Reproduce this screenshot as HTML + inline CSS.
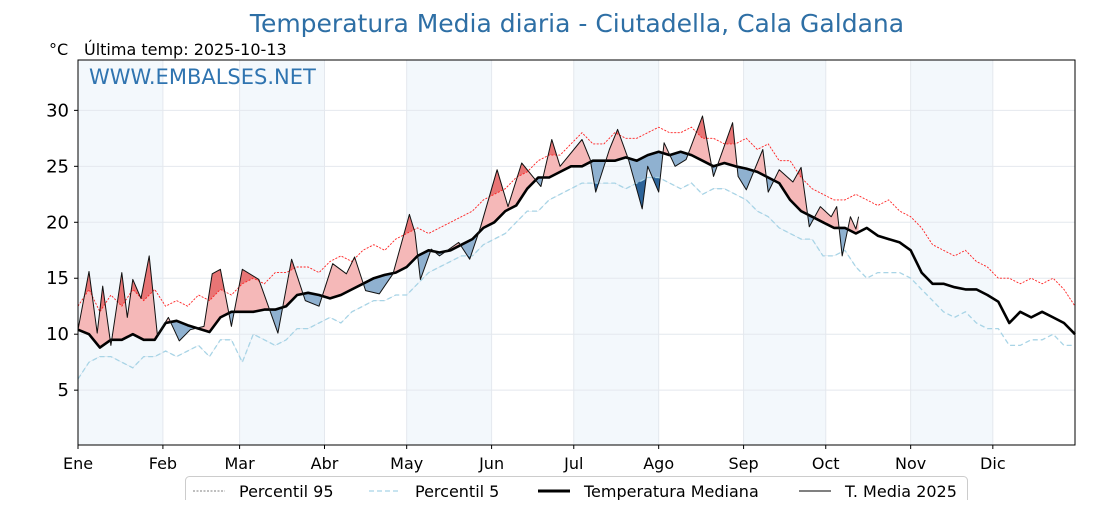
<!DOCTYPE html>
<html><head><meta charset="utf-8"><style>
body{margin:0;background:#fff;}
svg text{font-family:"DejaVu Sans","Liberation Sans",sans-serif;}
</style></head><body>
<svg id="chart" width="1120" height="500" xmlns="http://www.w3.org/2000/svg">
<text x="577" y="32" text-anchor="middle" font-size="25" fill="#2e6fa5">Temperatura Media diaria - Ciutadella, Cala Galdana</text>
<text x="49" y="55" font-size="16" fill="#000">°C</text>
<text x="84" y="55" font-size="16" fill="#000">Última temp: 2025-10-13</text>
<g id="bands"></g><g id="grid"></g><g id="fills"></g><g id="lines"></g><g id="axes"></g>
<text x="89" y="84" font-size="21" fill="#2f74b0">WWW.EMBALSES.NET</text>
<g id="legend"></g>
</svg>
<script>
const monthLabels=["Ene","Feb","Mar","Abr","May","Jun","Jul","Ago","Sep","Oct","Nov","Dic"];
const monthStarts=[0,31,59,90,120,151,181,212,243,273,304,334];
const yTicks=[5,10,15,20,25,30];
const refDays=[0,4,8,12,16,20,24,28,32,36,40,44,48,52,56,60,64,68,72,76,80,84,88,92,96,100,104,108,112,116,120,124,128,132,136,140,144,148,152,156,160,164,168,172,176,180,184,188,192,196,200,204,208,212,216,220,224,228,232,236,240,244,248,252,256,260,264,268,272,276,280,284,288,292,296,300,304,308,312,316,320,324,328,332,336,340,344,348,352,356,360,364];
const median=[10.4,10,8.8,9.5,9.5,10,9.5,9.5,11,11.2,10.8,10.5,10.2,11.5,12,12,12,12.2,12.2,12.5,13.5,13.7,13.5,13.2,13.5,14,14.5,15,15.3,15.5,16,17,17.5,17.3,17.5,18,18.5,19.5,20,21,21.5,23,24,24,24.5,25,25,25.5,25.5,25.5,25.8,25.5,26,26.3,26,26.3,26,25.5,25,25.3,25,24.8,24.5,24,23.5,22,21,20.5,20,19.5,19.5,19,19.5,18.8,18.5,18.2,17.5,15.5,14.5,14.5,14.2,14,14,13.5,12.9,11,12,11.5,12,11.5,11,10];
const p95=[12.5,14,12,13.5,12.5,14,13,14,12.5,13,12.5,13.5,13,14,13.5,14.5,15,14.5,15.5,15.5,16,16,15.5,16.5,17,16.5,17.5,18,17.5,18.5,19,19.5,19,19.5,20,20.5,21,22,22.5,23,24,24.5,25.5,26,26,27,28,27,27,28,27.5,27.5,28,28.5,28,28,28.5,27.5,27.5,27,27,27.5,26.5,27,25.5,25.5,24,23,22.5,22,22,22.5,22,21.5,22,21,20.5,19.5,18,17.5,17,17.5,16.5,16,15,15,14.5,15,14.5,15,14,12.5];
const p5=[6,7.5,8,8,7.5,7,8,8,8.5,8,8.5,9,8,9.5,9.5,7.5,10,9.5,9,9.5,10.5,10.5,11,11.5,11,12,12.5,13,13,13.5,13.5,14.5,15.5,16,16.5,17,17,18,18.5,19,20,21,21,22,22.5,23,23.5,23.5,23.5,23.5,23,23.5,24,24,23.5,23,23.5,22.5,23,23,22.5,22,21,20.5,19.5,19,18.5,18.5,17,17,17.5,16,15,15.5,15.5,15.5,15,14,13,12,11.5,12,11,10.5,10.5,9,9,9.5,9.5,10,9,9];
const days2025=[0,4,7,9,12,16,18,20,23,26,29,33,37,41,46,49,52,56,60,66,73,78,83,88,93,98,101,105,110,115,121,123,125,129,132,139,143,147,153,157,162,167,169,173,176,184,187,189,194,197,201,206,208,212,214,218,222,228,232,239,241,244,250,252,256,261,264,267,271,275,277,279,282,284,285];
const temp2025=[10.4,15.6,10.1,14.3,9,15.5,11.5,14.9,13.2,17,9.9,11.5,9.4,10.4,10.7,15.4,15.8,10.7,15.8,14.9,10.1,16.7,13,12.5,16.3,15.4,16.9,13.9,13.6,15.4,20.7,19.1,14.9,17.6,17,18.2,16.7,19.6,24.7,21.4,25.3,23.8,23.2,27.4,25,27.4,25.6,22.7,26.5,28.3,25.6,21.2,25,22.7,27.1,25,25.6,29.5,24.1,28.9,24.1,22.9,26.5,22.7,24.7,23.6,24.9,19.6,21.4,20.5,21.4,17,20.5,19.4,20.5];

const X0=78,X1=1075,Y0=60,Y1=445,DMAX=364,VMIN=0.1,VMAX=34.5;
const xs=d=>X0+d/DMAX*(X1-X0);
const ys=v=>Y1-(v-VMIN)/(VMAX-VMIN)*(Y1-Y0);
const NS="http://www.w3.org/2000/svg";
function mk(tag,attrs,parent){const e=document.createElementNS(NS,tag);for(const k in attrs)e.setAttribute(k,attrs[k]);document.getElementById(parent).appendChild(e);return e;}
function interp(dx,vals,d){if(d<=dx[0])return vals[0];for(let i=1;i<dx.length;i++){if(d<=dx[i]){const t=(d-dx[i-1])/(dx[i]-dx[i-1]);return vals[i-1]+t*(vals[i]-vals[i-1]);}}return vals[vals.length-1];}

for(let m=0;m<12;m+=2){
  const r=mk('rect',{x:xs(monthStarts[m]),y:Y0,width:xs(monthStarts[m+1])-xs(monthStarts[m]),height:Y1-Y0,fill:'#f3f8fc'},'bands');
  
  
}
yTicks.forEach(v=>{const l=mk('line',{x1:X0,x2:X1,y1:ys(v),y2:ys(v),stroke:'#e4e8ee','stroke-width':1},'grid');

});
monthStarts.forEach(d=>{const l=mk('line',{x1:xs(d),x2:xs(d),y1:Y0,y2:Y1,stroke:'#e4e8ee','stroke-width':1},'grid');

});

const lastDay=days2025[days2025.length-1];
const tPts=[],mPts=[],p95Pts=[],p5Pts=[];
for(let d=0;d<=lastDay;d+=0.5){
  tPts.push([xs(d),ys(interp(days2025,temp2025,d))]);
  mPts.push([xs(d),ys(interp(refDays,median,d))]);
  p95Pts.push([xs(d),ys(interp(refDays,p95,d))]);
  p5Pts.push([xs(d),ys(interp(refDays,p5,d))]);
}
const ptsStr=a=>a.map(p=>p[0].toFixed(1)+','+p[1].toFixed(1)).join(' ');
const defs=mk('defs',{},'fills');
function clip(id,line,up){const c=document.createElementNS(NS,'clipPath');c.setAttribute('id',id);defs.appendChild(c);
  const p=document.createElementNS(NS,'polygon');const edge=up?Y0-10:Y1+10;
  p.setAttribute('points',ptsStr(line)+' '+line[line.length-1][0]+','+edge+' '+line[0][0]+','+edge);c.appendChild(p);}
clip('aboveM',mPts,true);clip('belowM',mPts,false);clip('aboveP95',p95Pts,true);clip('belowP5',p5Pts,false);
const between=(a,b)=>ptsStr(a)+' '+ptsStr(b.slice().reverse());
let f;
f=mk('polygon',{points:between(tPts,mPts),fill:'#f5b8b8','clip-path':'url(#aboveM)'},'fills');


f=mk('polygon',{points:between(tPts,mPts),fill:'#8fb1d0','clip-path':'url(#belowM)'},'fills');


f=mk('polygon',{points:between(tPts,p95Pts),fill:'#e87575','clip-path':'url(#aboveP95)'},'fills');


f=mk('polygon',{points:between(tPts,p5Pts),fill:'#2b6399','clip-path':'url(#belowP5)'},'fills');



function series(dx,vals){return dx.map((d,i)=>xs(d).toFixed(1)+','+ys(vals[i]).toFixed(1)).join(' ');}
let l;
l=mk('polyline',{points:series(refDays,p95),fill:'none',stroke:'#ff2020','stroke-width':0.9,'stroke-dasharray':'2,1.5'},'lines');


l=mk('polyline',{points:series(refDays,p5),fill:'none',stroke:'#a8d4e6','stroke-width':1.3,'stroke-dasharray':'5,3'},'lines');


l=mk('polyline',{points:series(refDays,median),fill:'none',stroke:'#000','stroke-width':2.6,'stroke-linejoin':'round'},'lines');


l=mk('polyline',{points:series(days2025,temp2025),fill:'none',stroke:'#111','stroke-width':1,'stroke-linejoin':'round'},'lines');



let a=mk('rect',{x:X0,y:Y0,width:X1-X0,height:Y1-Y0,fill:'none',stroke:'#000','stroke-width':1},'axes');


yTicks.forEach(v=>{
  const t=mk('line',{x1:X0-4,x2:X0,y1:ys(v),y2:ys(v),stroke:'#000'},'axes');
  
  
  const tx=mk('text',{x:X0-9,y:ys(v)+6,'text-anchor':'end','font-size':18,fill:'#000'},'axes');tx.textContent=v;
  
  
});
monthStarts.forEach((d,i)=>{
  const t=mk('line',{x1:xs(d),x2:xs(d),y1:Y1,y2:Y1+4,stroke:'#000'},'axes');
  
  
  const tx=mk('text',{x:xs(d),y:469,'text-anchor':'middle','font-size':16,fill:'#000'},'axes');tx.textContent=monthLabels[i];
  
  
});

const lg=mk('rect',{x:185.5,y:476.5,width:782,height:30,rx:4,fill:'#fff',stroke:'#ccc'},'legend');


const legendNames=["Percentil 95","Percentil 5","Temperatura Mediana","T. Media 2025"];
const legendStyles=[{stroke:'#555','stroke-width':0.8,'stroke-dasharray':'2,1.5'},{stroke:'#a8d4e6','stroke-width':1.3,'stroke-dasharray':'5,3'},{stroke:'#000','stroke-width':3},{stroke:'#000','stroke-width':1}];
const legendX=[193,369,538,799];
legendNames.forEach((n,i)=>{
  const ln=mk('line',Object.assign({x1:legendX[i],x2:legendX[i]+32,y1:491,y2:491},legendStyles[i]),'legend');
  
  
  const tx=mk('text',{x:legendX[i]+46,y:497,'font-size':16,fill:'#000'},'legend');tx.textContent=n;
  
  
});
</script>
</body></html>
